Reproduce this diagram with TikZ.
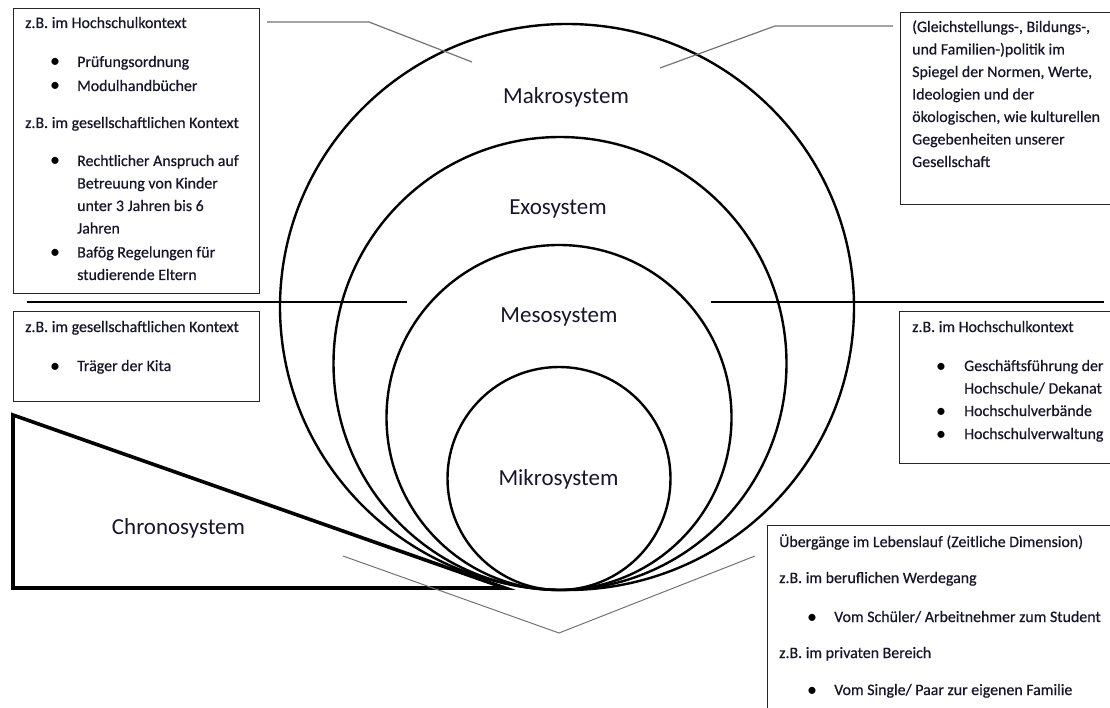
\documentclass[tikz,border=0pt]{standalone}
\usepackage{fontspec}
\setmainfont{Carlito}
\newfontfamily\smallfont{Carlito}[FakeBold=0.6]
\usetikzlibrary{shapes.geometric}
\definecolor{ink}{RGB}{22,22,42}
\begin{document}
\begin{tikzpicture}[x=1pt,y=-1pt,
  sys/.style={draw=black, line width=2.4pt, inner sep=0pt, outer sep=0pt},
  box/.style={draw=black!85, line width=1.3pt, rectangle, anchor=north west, inner sep=0pt},
  small/.style={font=\smallfont\fontsize{15.9}{19}\selectfont, text=ink, inner sep=0pt, anchor=base west},
  bul/.style={font=\fontsize{20}{22}\selectfont, text=black, inner sep=0pt, anchor=base},
  big/.style={font=\fontsize{23}{27}\selectfont, text=ink, inner sep=0pt, anchor=base},
  pointer/.style={draw=black!55, line width=1.2pt},
  divider/.style={draw=black, line width=1.3pt},
  chrono/.style={draw=black, line width=3.6pt}]
\useasboundingbox (0,0) rectangle (1110,708);

% nested systems
\node[sys, ellipse, minimum width=574, minimum height=566] (makro) at (567,307) {};
\node[sys, circle, minimum size=453] (exo) at (560,363.5) {};
\node[sys, circle, minimum size=345] (meso) at (559,417.5) {};
\node[sys, circle, minimum size=223] (mikro) at (559,478.5) {};

\node[big] (lmakro) at (566,103.5) {Makrosystem};
\node[big] (lexo) at (558,214.5) {Exosystem};
\node[big] (lmeso) at (559,322.5) {Mesosystem};
\node[big] (lmikro) at (558.5,485.5) {Mikrosystem};

% chronosystem wedge
\coordinate (c1) at (13,415);
\coordinate (c2) at (13,588);
\coordinate (c3) at (505,588);
\draw[chrono] (c1) -- (c2) -- (c3) -- cycle;
\node[big] (lchrono) at (178.5,534.5) {Chronosystem};

% boxes
\node[box, minimum width=246, minimum height=285] (b1) at (13,8) {};
\node[box, minimum width=220, minimum height=192] (b2) at (900,12) {};
\node[box, minimum width=246, minimum height=90] (b3) at (13,311) {};
\node[box, minimum width=220, minimum height=152] (b4) at (899,311) {};
\node[box, minimum width=360, minimum height=200] (b5) at (767,525) {};

% pointers
\coordinate (p1a) at (267,22);
\coordinate (p1b) at (369,22);
\coordinate (p1c) at (472,62);
\draw[pointer] (p1a) -- (p1b) -- (p1c);
\coordinate (p2a) at (660,68);
\coordinate (p2b) at (775,26);
\coordinate (p2c) at (893,26);
\draw[pointer] (p2a) -- (p2b) -- (p2c);
\coordinate (v1) at (343,556);
\coordinate (v2) at (559,633);
\coordinate (v3) at (755,556);
\draw[pointer, line width=1pt] (v1) -- (v2) -- (v3);
\coordinate (d1a) at (27,302);
\coordinate (d1b) at (407,302);
\draw[divider] (d1a) -- (d1b);
\coordinate (d2a) at (711,302);
\coordinate (d2b) at (1104,302);
\draw[divider] (d2a) -- (d2b);

% box 1 text
\node[small] (t11) at (25,28) {z.B. im Hochschulkontext};
\node[bul] (u11) at (55,68) {•};
\node[small] (t12) at (77,67) {Prüfungsordnung};
\node[bul] (u12) at (55,92) {•};
\node[small] (t13) at (77,91) {Modulhandbücher};
\node[small] (t14) at (25,128) {z.B. im gesellschaftlichen Kontext};
\node[bul] (u13) at (55,167) {•};
\node[small] (t15) at (77,166) {Rechtlicher Anspruch auf};
\node[small] (t16) at (77,188.5) {Betreuung von Kinder};
\node[small] (t17) at (77,211) {unter 3 Jahren bis 6};
\node[small] (t18) at (77,233.5) {Jahren};
\node[bul] (u14) at (55,258.5) {•};
\node[small] (t19) at (77,257.5) {Bafög Regelungen für};
\node[small] (t110) at (77,280) {studierende Eltern};

% box 2 text
\node[small] (t21) at (912,32) {(Gleichstellungs-, Bildungs-,};
\node[small] (t22) at (912,54.5) {und Familien-)politik im};
\node[small] (t23) at (912,77) {Spiegel der Normen, Werte,};
\node[small] (t24) at (912,99.5) {Ideologien und der};
\node[small] (t25) at (912,122) {ökologischen, wie kulturellen};
\node[small] (t26) at (912,144.5) {Gegebenheiten unserer};
\node[small] (t27) at (912,167) {Gesellschaft};

% box 3 text
\node[small] (t31) at (25,332) {z.B. im gesellschaftlichen Kontext};
\node[bul] (u31) at (55,372) {•};
\node[small] (t32) at (77,371) {Träger der Kita};

% box 4 text
\node[small] (t41) at (912,332) {z.B. im Hochschulkontext};
\node[bul] (u41) at (941,372) {•};
\node[small] (t42) at (964,371) {Geschäftsführung der};
\node[small] (t43) at (964,393.5) {Hochschule/ Dekanat};
\node[bul] (u42) at (941,417) {•};
\node[small] (t44) at (964,416) {Hochschulverbände};
\node[bul] (u43) at (941,440) {•};
\node[small] (t45) at (964,439) {Hochschulverwaltung};

% box 5 text
\node[small] (t51) at (779,547) {Übergänge im Lebenslauf (Zeitliche Dimension)};
\node[small] (t52) at (779,583) {z.B. im beruflichen Werdegang};
\node[bul] (u51) at (812,623) {•};
\node[small] (t53) at (834,622) {Vom Schüler/ Arbeitnehmer zum Student};
\node[small] (t54) at (779,658) {z.B. im privaten Bereich};
\node[bul] (u52) at (812,696) {•};
\node[small] (t55) at (834,695) {Vom Single/ Paar zur eigenen Familie};
\end{tikzpicture}
\end{document}
